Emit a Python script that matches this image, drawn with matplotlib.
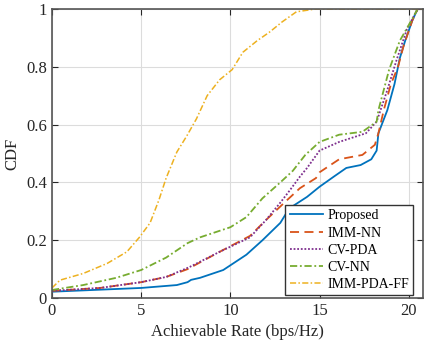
import numpy as np
import matplotlib.pyplot as plt

plt.rcParams['font.family'] = ['Liberation Serif', 'DejaVu Serif']

# rate (bps/Hz) vs CDF
prop_x = [0, 5.0, 7.0, 7.6, 7.8, 8.3, 9.6, 10.9, 11.8, 12.8, 13.3, 14.3, 15.0,
          15.8, 16.5, 17.3, 17.9, 18.2, 18.3, 18.8, 19.2, 19.5, 19.8, 20.2, 20.5, 20.8]
prop_y = [0.022, 0.035, 0.045, 0.055, 0.063, 0.07, 0.097, 0.15, 0.20, 0.26, 0.31, 0.35, 0.385,
          0.42, 0.45, 0.46, 0.48, 0.51, 0.57, 0.65, 0.74, 0.83, 0.89, 0.96, 1.0, 1.0]

immnn_x = [0, 2.7, 5.0, 6.4, 7.6, 9.4, 11.1, 12.0, 13.2, 13.9, 14.8, 15.0, 16.1,
           17.4, 18.1, 18.3, 18.6, 19.0, 19.4, 19.7, 20.2, 20.5, 20.8]
immnn_y = [0.025, 0.035, 0.055, 0.073, 0.10, 0.16, 0.215, 0.27, 0.34, 0.38, 0.415, 0.435, 0.48,
           0.495, 0.53, 0.57, 0.65, 0.74, 0.80, 0.87, 0.96, 1.0, 1.0]

cvpda_x = [0, 2.7, 5.0, 6.4, 7.7, 9.4, 11.1, 12.0, 12.8, 13.3, 13.9, 14.3, 15.0,
           16.1, 17.6, 18.2, 18.8, 19.3, 19.9, 20.5, 20.8]
cvpda_y = [0.025, 0.035, 0.055, 0.073, 0.107, 0.16, 0.21, 0.27, 0.33, 0.37, 0.42, 0.45, 0.51,
           0.54, 0.57, 0.61, 0.72, 0.82, 0.93, 1.0, 1.0]

cvnn_x = [0, 1.75, 3.6, 5.0, 6.4, 7.6, 8.3, 10.0, 10.9, 11.8, 12.8, 13.5, 14.2,
          15.0, 16.1, 17.4, 18.2, 18.3, 18.6, 18.9, 19.5, 20.1, 20.5, 20.8]
cvnn_y = [0.028, 0.045, 0.07, 0.097, 0.14, 0.19, 0.21, 0.245, 0.28, 0.345, 0.40, 0.44, 0.495,
          0.54, 0.565, 0.575, 0.61, 0.65, 0.72, 0.79, 0.89, 0.955, 1.0, 1.0]

ff_x = [0, 0.45, 1.75, 3.1, 4.2, 4.9, 5.5, 6.0, 6.4, 7.0, 7.55, 8.1, 8.7, 9.4,
        10.1, 10.7, 11.5, 12.2, 12.9, 13.7, 14.8, 20.8]
ff_y = [0.035, 0.062, 0.085, 0.12, 0.16, 0.21, 0.26, 0.34, 0.415, 0.505, 0.56, 0.62, 0.70, 0.755,
        0.79, 0.85, 0.89, 0.92, 0.955, 0.99, 1.0, 1.0]

fig = plt.figure(figsize=(4.26, 3.43), dpi=100)
ax = fig.add_axes([0.122, 0.131, 0.871, 0.843])

ax.plot(prop_x, prop_y, color='#0072BD', ls='-', lw=1.3, label='Proposed')
ax.plot(immnn_x, immnn_y, color='#D95319', ls=(0, (5, 3)), lw=1.3, label='IMM-NN')
ax.plot(cvpda_x, cvpda_y, color='#7E2F8E', ls=(0, (1, 1)), lw=1.3, label='CV-PDA')
ax.plot(cvnn_x, cvnn_y, color='#77AC30', ls=(0, (4, 1.5, 1, 1.5)), lw=1.3, label='CV-NN')
ax.plot(ff_x, ff_y, color='#EDB120', ls=(0, (4, 1.5, 1, 1.5)), lw=1.1, label='IMM-PDA-FF')

ax.set_xlim(0, 20.8)
ax.set_ylim(0, 1)
ax.set_xticks([0, 5, 10, 15, 20])
ax.set_yticks([0, 0.2, 0.4, 0.6, 0.8, 1.0])
ax.set_yticklabels(['0', '0.2', '0.4', '0.6', '0.8', '1'])
ax.grid(True, color='#dcdcdc', lw=0.8)
ax.tick_params(direction='in', top=True, right=True, labelsize=12, colors='#262626', length=4)
for s in ax.spines.values():
    s.set_color('#555555')
    s.set_linewidth(1.2)
ax.set_xlabel('Achievable Rate (bps/Hz)', fontsize=12, color='#262626')
ax.set_ylabel('CDF', fontsize=12, color='#262626')

leg = ax.legend(loc='lower right', bbox_to_anchor=(0.973, 0.01), fontsize=10,
                fancybox=False, framealpha=1, edgecolor='#333333', handlelength=2.4,
                borderpad=0.3, labelspacing=0.3, handletextpad=0.3, borderaxespad=0)
leg.get_frame().set_linewidth(1.0)

fig.savefig('out.png', dpi=100)
